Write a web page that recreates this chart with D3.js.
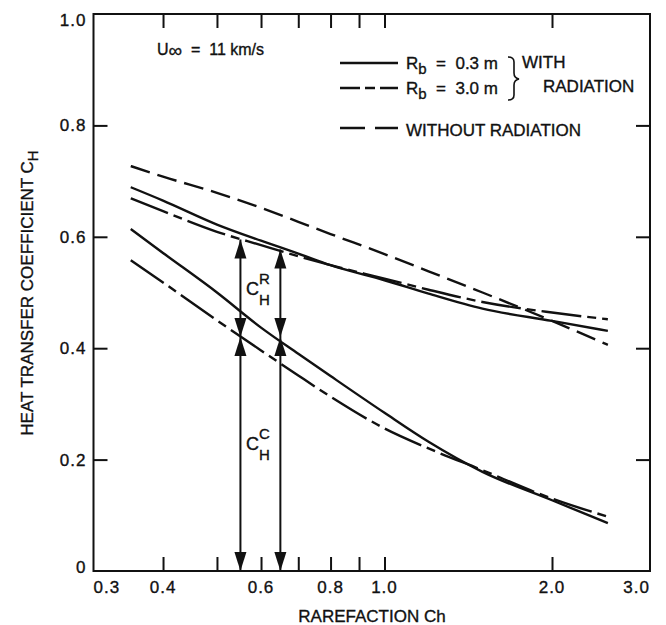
<!DOCTYPE html>
<html>
<head>
  <meta charset="utf-8">
  <title>Heat transfer coefficient vs rarefaction</title>
  <script src="https://d3js.org/d3.v7.min.js"></script>
  <style>
    body { margin: 0; background: #ffffff; }
    text { font-family: 'Liberation Sans', Arial, sans-serif; fill: #111; stroke: #111; stroke-width: 0.35px; }
    .tick-label { font-size: 17px; letter-spacing: 1px; }
    .curve { fill: none; stroke: #111; stroke-width: 2.4; }
  </style>
</head>
<body>
<script>
  // values
  var rare = [0.35, 0.4, 0.5, 0.6, 0.7, 0.8, 1.0, 1.2, 1.5, 2.0, 2.52];
  var withoutRad = [0.727, 0.708, 0.679, 0.652, 0.627, 0.605, 0.569, 0.538, 0.500, 0.449, 0.406];
  var upperR03 = [0.689, 0.665, 0.622, 0.593, 0.570, 0.549, 0.522, 0.498, 0.471, 0.449, 0.431];
  var upperR30 = [0.669, 0.646, 0.609, 0.585, 0.565, 0.549, 0.525, 0.505, 0.483, 0.464, 0.452];
  var lowerR03 = [0.614, 0.571, 0.500, 0.437, 0.390, 0.350, 0.284, 0.232, 0.178, 0.127, 0.086];
  var lowerR30 = [0.558, 0.518, 0.450, 0.396, 0.351, 0.313, 0.256, 0.220, 0.181, 0.130, 0.0975];

  var xTickVals = [0.4, 0.5, 0.6, 0.7, 0.8, 0.9, 1.0, 2.0];
  var xLabelVals = [0.3, 0.4, 0.6, 0.8, 1.0, 2.0, 3.0];
  var yTickVals = [0.2, 0.4, 0.6, 0.8];
  var yLabelVals = [0, 0.2, 0.4, 0.6, 0.8, 1.0];

  // the C_H arrows: x position, split point, top
  var arrowRare = [0.551, 0.65];
  var arrowMid = [0.42, 0.42];
  var arrowTop = [0.595, 0.577];

  var margin = {top: 14, right: 16, bottom: 54, left: 93.5},
      W = 666, H = 625,
      width = W - margin.left - margin.right,
      height = H - margin.top - margin.bottom;

  var svg = d3.select("body").append("svg")
    .attr("width", W)
    .attr("height", H);

  var g = svg.append("g")
    .attr("transform", "translate(" + margin.left + "," + margin.top + ")");

  var x = d3.scaleLog().domain([0.3, 3.0]).range([0, width]);
  var y = d3.scaleLinear().domain([0, 1.0]).range([height, 0]);

  // frame
  g.append("rect")
    .attr("width", width).attr("height", height)
    .attr("fill", "none").attr("stroke", "#111").attr("stroke-width", 2);

  // inward ticks on all four sides
  function tickStyle(sel) {
    sel.select(".domain").remove();
    sel.selectAll(".tick line").attr("stroke", "#111").attr("stroke-width", 2);
    sel.selectAll(".tick text").remove();
  }
  g.append("g").attr("transform", "translate(0," + height + ")")
    .call(d3.axisBottom(x).tickValues(xTickVals).tickSize(-14)).call(tickStyle);
  g.append("g")
    .call(d3.axisTop(x).tickValues(xTickVals).tickSize(-14)).call(tickStyle);
  g.append("g")
    .call(d3.axisLeft(y).tickValues(yTickVals).tickSize(-14)).call(tickStyle);
  g.append("g").attr("transform", "translate(" + width + ",0)")
    .call(d3.axisRight(y).tickValues(yTickVals).tickSize(-14)).call(tickStyle);

  // tick labels
  g.selectAll(".xl").data(xLabelVals).enter().append("text")
    .attr("class", "tick-label")
    .attr("x", function (d) { return x(d); })
    .attr("y", height + 22)
    .attr("text-anchor", function (d) {
      return d == 0.3 ? "start" : (d == 3.0 ? "end" : "middle");
    })
    .text(function (d) { return d3.format(".1f")(d); });

  g.selectAll(".yl").data(yLabelVals).enter().append("text")
    .attr("class", "tick-label")
    .attr("x", -7)
    .attr("y", function (d) {
      if (d == 1.0) return y(d) + 12;
      if (d == 0) return y(d) + 2;
      return y(d) + 6;
    })
    .attr("text-anchor", "end")
    .text(function (d) { return d == 0 ? "0" : d3.format(".1f")(d); });

  // axis titles
  svg.append("text")
    .attr("x", 372).attr("y", 622)
    .attr("text-anchor", "middle")
    .style("font-size", "17px")
    .text("RAREFACTION Ch");

  var yt = svg.append("text")
    .attr("transform", "translate(33,293) rotate(-90)")
    .attr("text-anchor", "middle")
    .style("font-size", "17px");
  yt.append("tspan").text("HEAT TRANSFER COEFFICIENT C");
  yt.append("tspan").attr("dy", 5).style("font-size", "15px").text("H");

  // curves
  var line = d3.line()
    .x(function (d) { return x(d[0]); })
    .y(function (d) { return y(d[1]); })
    .curve(d3.curveMonotoneX);

  var series = [
    {vals: withoutRad, dash: "20,8"},
    {vals: upperR03, dash: null},
    {vals: upperR30, dash: "40,6,9,6"},
    {vals: lowerR03, dash: null},
    {vals: lowerR30, dash: "40,6,9,6"}
  ];

  g.selectAll(".curve").data(series).enter().append("path")
    .attr("class", "curve")
    .attr("d", function (s) { return line(d3.zip(rare, s.vals)); })
    .attr("stroke-dasharray", function (s) { return s.dash; });

  // arrows for C_H^R and C_H^C
  function head(px, py, dir) {
    // dir = -1 points up, +1 points down; (px,py) is the tip
    var w = 6, l = 19;
    return "M" + px + "," + py + "L" + (px - w) + "," + (py - dir * l) +
      "L" + (px + w) + "," + (py - dir * l) + "Z";
  }
  arrowRare.forEach(function (r, i) {
    var px = x(r);
    g.append("line")
      .attr("x1", px).attr("x2", px)
      .attr("y1", y(0)).attr("y2", y(arrowTop[i]))
      .attr("stroke", "#111").attr("stroke-width", 2);
    [[y(0), 1], [y(arrowMid[i]), -1], [y(arrowMid[i]), 1], [y(arrowTop[i]), -1]].forEach(function (h) {
      g.append("path").attr("d", head(px, h[0], h[1])).attr("fill", "#111");
    });
  });

  function cLabel(xp, yp, sup) {
    var t = svg.append("text").attr("x", xp).attr("y", yp).style("font-size", "18px");
    t.append("tspan").text("C");
    t.append("tspan").attr("dy", -11).style("font-size", "15px").text(sup);
    t.append("tspan").attr("x", xp + 13).attr("dy", 21).style("font-size", "15px").text("H");
  }
  cLabel(246, 295, "R");
  cLabel(246, 450, "C");

  // velocity note
  var u = svg.append("text").attr("x", 157).attr("y", 55)
    .style("font-size", "16px").style("white-space", "pre");
  u.append("tspan").text("U");
  u.append("tspan").attr("dy", 2).style("font-size", "19px").text("\u221E");
  u.append("tspan").attr("dy", -2).text("  =  11 km/s");

  // legend
  var legend = [
    {y: 63, dash: null, name: "0.3 m"},
    {y: 88, dash: "20,5,10,5", name: "3.0 m"},
    {y: 128, dash: "25,10", name: null}
  ];
  legend.forEach(function (d) {
    svg.append("line")
      .attr("x1", 340).attr("x2", 398)
      .attr("y1", d.y).attr("y2", d.y)
      .attr("stroke", "#111").attr("stroke-width", 2.4)
      .attr("stroke-dasharray", d.dash);
    var t = svg.append("text").attr("x", 406).attr("y", d.y + 6)
      .style("font-size", "17px").style("white-space", "pre");
    if (d.name) {
      t.append("tspan").text("R");
      t.append("tspan").attr("dy", 5).style("font-size", "15px").text("b");
      t.append("tspan").attr("dy", -5).text("  =  " + d.name);
    } else {
      t.attr("y", d.y + 8).text("WITHOUT RADIATION");
    }
  });

  svg.append("path")
    .attr("d", "M508,57 Q514,57 514,62 L514,73 Q514,78 519,79 Q514,80 514,85 L514,95 Q514,100 508,100")
    .attr("fill", "none").attr("stroke", "#111").attr("stroke-width", 1.6);
  svg.append("text").attr("x", 522).attr("y", 68).style("font-size", "17px").text("WITH");
  svg.append("text").attr("x", 543).attr("y", 92).style("font-size", "17px").text("RADIATION");
</script>
</body>
</html>
